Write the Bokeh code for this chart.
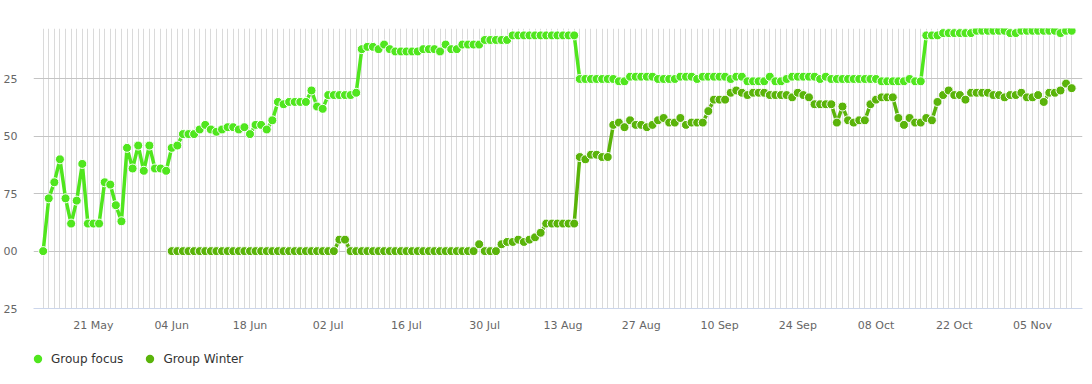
import pandas as pd
from bokeh.plotting import figure
from bokeh.layouts import column
from bokeh.models import Range1d, FixedTicker, DatetimeTickFormatter, Legend, LegendItem
from bokeh.embed import file_html
from bokeh.resources import INLINE

# ---------------- data ----------------
series_names = ["Group focus", "Group Winter"]
start_date = "2019-05-12"
winter_start_date = "2019-06-04"

focus = [
    100, 77, 70, 60, 77, 88, 78, 62, 88, 88,
    88, 70, 71, 80, 87, 55, 64, 54, 65, 54,
    64, 64, 65, 55, 54, 49, 49, 49, 47, 45,
    47, 48, 47, 46, 46, 47, 46, 49, 45, 45,
    47, 43, 35, 36, 35, 35, 35, 35, 30, 37,
    38, 32, 32, 32, 32, 32, 31, 12, 11, 11,
    12, 10, 12, 13, 13, 13, 13, 13, 12, 12,
    12, 13, 10, 12, 12, 10, 10, 10, 10, 8,
    8, 8, 8, 8, 6, 6, 6, 6, 6, 6,
    6, 6, 6, 6, 6, 6, 25, 25, 25, 25,
    25, 25, 25, 26, 26, 24, 24, 24, 24, 24,
    25, 25, 25, 25, 24, 24, 24, 25, 24, 24,
    24, 24, 24, 25, 24, 24, 26, 26, 26, 26,
    24, 26, 26, 25, 24, 24, 24, 24, 24, 25,
    24, 25, 25, 25, 25, 25, 25, 25, 25, 25,
    26, 26, 26, 26, 26, 25, 26, 26, 6, 6,
    6, 5, 5, 5, 5, 5, 5, 4, 4, 4,
    4, 4, 4, 5, 5, 4, 4, 4, 4, 4,
    4, 4, 5, 4, 4,
]

winter = [
    100, 100, 100, 100, 100, 100, 100, 100, 100, 100,
    100, 100, 100, 100, 100, 100, 100, 100, 100, 100,
    100, 100, 100, 100, 100, 100, 100, 100, 100, 100,
    95, 95,
    100, 100, 100, 100, 100, 100, 100, 100, 100, 100,
    100, 100, 100, 100, 100, 100, 100, 100, 100, 100,
    100, 100, 100,
    97, 100, 100, 100,
    97, 96, 96, 95, 96, 95, 94, 92,
    88, 88, 88, 88, 88, 88,
    59, 60, 58, 58, 59, 59,
    45, 44, 46, 43, 45, 45, 46, 45, 43, 42,
    44, 44, 42, 45, 44, 44, 44, 39, 34, 34,
    34, 31, 30, 31, 32, 31, 31, 31, 32, 32,
    32, 32, 33, 31, 32, 33, 36, 36, 36, 36,
    44, 37, 43, 44, 43, 43, 36, 34, 33, 33,
    33, 42, 45, 42, 44, 44, 42, 43, 35, 32,
    30, 32, 32, 34, 31, 31, 31, 31, 32, 32,
    33, 32, 32, 31, 33, 33, 32, 35, 31, 31,
    30, 27, 29,
]

x_tick_dates = ["2019-05-21", "2019-06-04", "2019-06-18", "2019-07-02", "2019-07-16",
                "2019-07-30", "2019-08-13", "2019-08-27", "2019-09-10", "2019-09-24",
                "2019-10-08", "2019-10-22", "2019-11-05"]
y_ticks = [25, 50, 75, 100, 125]
y_tick_labels = {25: "25", 50: "50", 75: "75", 100: "00", 125: "25"}

colors = ["#50e61e", "#5ab40a"]

# ---------------- build ----------------
focus_dates = pd.date_range(start_date, periods=len(focus), freq="D")
winter_dates = pd.date_range(winter_start_date, periods=len(winter), freq="D")

def ms(ts):
    return pd.Timestamp(ts).value / 1e6

DAY = 86400000.0
x0 = ms(focus_dates[0]) - 1.73 * DAY
x1 = ms(focus_dates[-1]) + 1.94 * DAY

p = figure(width=1092, height=340, x_axis_type="datetime",
           output_backend="svg", toolbar_location=None,
           x_range=Range1d(x0, x1), y_range=Range1d(125, 3.0),
           min_border_left=32, min_border_right=10,
           min_border_top=28, min_border_bottom=32)
p.outline_line_color = None
p.background_fill_color = "white"
p.border_fill_color = "white"

xt = FixedTicker(ticks=[ms(d) for d in x_tick_dates],
                 minor_ticks=[ms(d) for d in focus_dates])
p.xaxis.ticker = xt
p.xgrid.ticker = xt
fmt = "%d %b"
p.xaxis.formatter = DatetimeTickFormatter(days=fmt, months=fmt, years=fmt,
                                          hours=fmt, minutes=fmt, seconds=fmt,
                                          milliseconds=fmt, microseconds=fmt,
                                          hourmin=fmt, minsec=fmt)
p.xgrid.grid_line_color = "#dadada"
p.xgrid.minor_grid_line_color = "#dadada"
p.xgrid.grid_line_width = 1
p.xgrid.minor_grid_line_width = 1

yt = FixedTicker(ticks=y_ticks)
p.yaxis.ticker = yt
p.ygrid.ticker = yt
p.yaxis.major_label_overrides = y_tick_labels
p.ygrid.grid_line_color = "#c4c4c4"

for ax in (p.xaxis[0], p.yaxis[0]):
    ax.major_tick_line_color = None
    ax.minor_tick_line_color = None
    ax.major_tick_out = 0
    ax.major_tick_in = 0
    ax.minor_tick_out = 0
    ax.minor_tick_in = 0
    ax.major_label_text_font = "DejaVu Sans"
    ax.major_label_text_font_size = "11px"
    ax.major_label_text_color = "#666666"

p.xaxis.axis_line_color = "#ccd6eb"
p.xaxis.major_label_standoff = 10
p.yaxis.axis_line_color = None
p.yaxis.major_label_standoff = 16

p.line(focus_dates, focus, line_color=colors[0], line_width=3.5)
p.scatter(focus_dates, focus, size=9, fill_color=colors[0],
          line_color="white", line_width=1)
p.line(winter_dates, winter, line_color=colors[1], line_width=3.5)
p.scatter(winter_dates, winter, size=9, fill_color=colors[1],
          line_color="white", line_width=1)

# ---------------- legend strip ----------------
lg = figure(width=1092, height=44, output_backend="svg", toolbar_location=None,
            x_range=Range1d(0, 1), y_range=Range1d(0, 1),
            x_axis_location=None, y_axis_location=None,
            min_border=0, min_border_left=0, min_border_right=0,
            min_border_top=0, min_border_bottom=0)
lg.grid.visible = False
lg.outline_line_color = None
lg.background_fill_color = "white"
lg.border_fill_color = "white"
k_focus = lg.scatter([-5], [-5], size=9, fill_color=colors[0], line_color=None)
k_winter = lg.scatter([-5], [-5], size=9, fill_color=colors[1], line_color=None)

legend = Legend(items=[LegendItem(label=series_names[0], renderers=[k_focus]),
                       LegendItem(label=series_names[1], renderers=[k_winter])],
                location=(-6, 15), orientation="horizontal",
                padding=0, spacing=16, margin=0,
                glyph_width=21, glyph_height=21, label_standoff=3,
                border_line_color=None, background_fill_alpha=0,
                label_text_font="DejaVu Sans", label_text_font_size="12px",
                label_text_color="#333333")
lg.add_layout(legend)

layout = column(p, lg, spacing=0)
open("out.html", "w").write(file_html(layout, INLINE))
